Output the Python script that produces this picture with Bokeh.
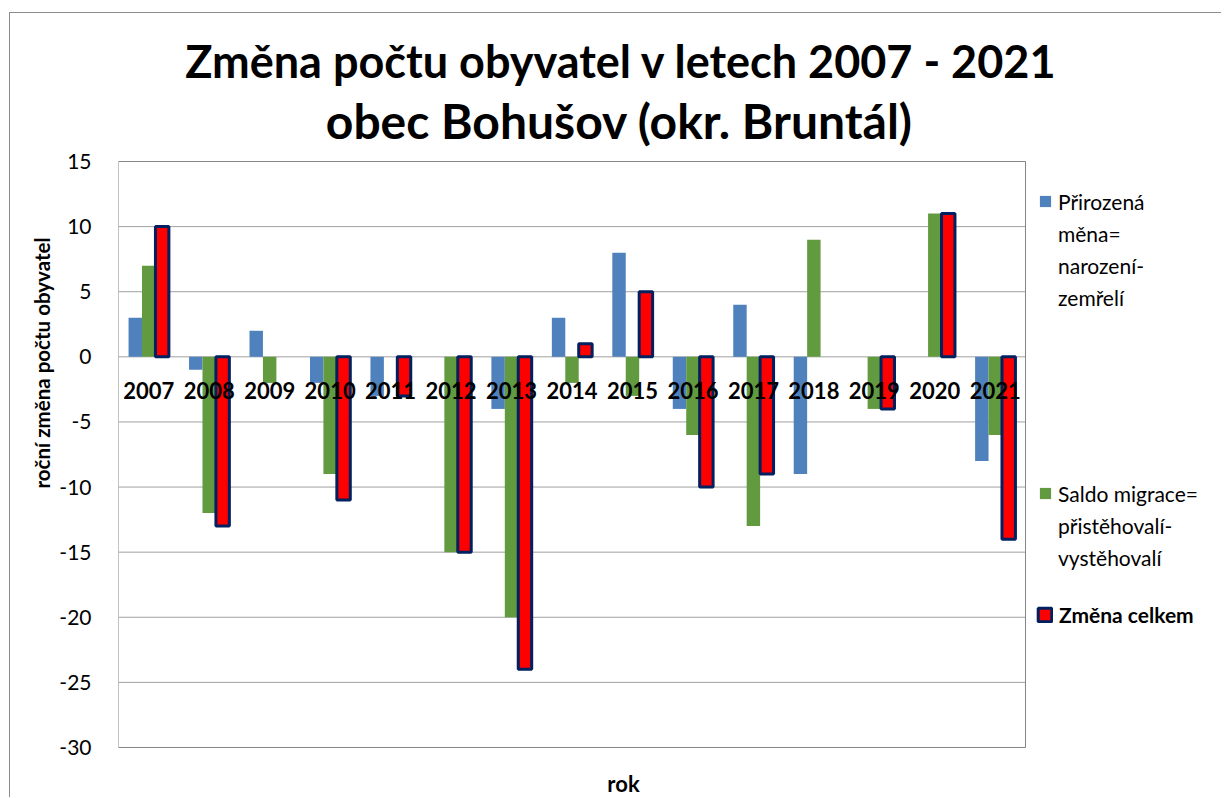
import math
from bokeh.plotting import figure
from bokeh.models import (ColumnDataSource, Range1d, FixedTicker, Label, Legend,
                          LegendItem, Title)
from bokeh.core.properties import value
from bokeh.transform import dodge
from bokeh.embed import file_html
from bokeh.resources import INLINE

years = ["2007", "2008", "2009", "2010", "2011", "2012", "2013", "2014",
         "2015", "2016", "2017", "2018", "2019", "2020", "2021"]
prirozena = [3, -1, 2, -2, -3, 0, -4, 3, 8, -4, 4, -9, 0, 0, -8]
migrace = [7, -12, -2, -9, 0, -15, -20, -2, -3, -6, -13, 9, -4, 11, -6]
celkem = [10, -13, 0, -11, -3, -15, -24, 1, 5, -10, -9, 0, -4, 11, -14]
y_ticks = [-30, -25, -20, -15, -10, -5, 0, 5, 10, 15]

title_lines = ["Změna počtu obyvatel v letech 2007 - 2021", "obec Bohušov (okr. Bruntál)"]
y_title = "roční změna počtu obyvatel"
x_title = "rok"
legend_lines = [["Přirozená", "měna=", "narození-", "zemřelí"],
                ["Saldo migrace=", "přistěhovalí-", "vystěhovalí"],
                ["Změna celkem"]]

FONT = "Lato"
BLUE = "#4F81BD"
GREEN = "#629A3F"
RED = "#FF0000"
NAVY = "#002060"
GRID = "#A0A0A0"
BORDER = "#868686"

# ---- layout (page pixels) ----
ORIG_X, ORIG_Y = 10, 13            # canvas origin on the page
W, H = 1212, 785                    # canvas size
PA_L, PA_R, PA_T, PA_B = 118, 1025, 161, 747   # plot area on the page
FR_L = PA_L                         # frame left on page; frame fills the rest
FR_T, FR_B, FR_R = ORIG_Y, ORIG_Y + H, ORIG_X + W

n = len(years)
ymin, ymax = min(y_ticks), max(y_ticks)
ppu_y = (PA_B - PA_T) / (ymax - ymin)
ppu_x = (PA_R - PA_L) / n
y_start = ymin - (FR_B - PA_B) / ppu_y
y_end = ymax + (PA_T - FR_T) / ppu_y
x_start = -0.5
x_end = -0.5 + (FR_R - FR_L) / ppu_x

idx = list(range(n))
zero_alpha = [0.0 if v == 0 else 1.0 for v in celkem]
src = ColumnDataSource(dict(idx=idx, year=years, a=prirozena, b=migrace, c=celkem,
                            ca=zero_alpha))

p = figure(width=W, height=H, x_range=Range1d(x_start, x_end), y_range=Range1d(y_start, y_end),
           output_backend="svg", toolbar_location=None,
           min_border_left=FR_L - ORIG_X, min_border_top=0, min_border_bottom=0,
           min_border_right=0)
p.styles = {"margin-left": "9px", "margin-top": "12px",
            "border-left": "1px solid #8C8C8C", "border-top": "1px solid #8C8C8C"}
p.outline_line_color = None
p.xgrid.visible = False
p.ygrid.visible = False
p.xaxis.visible = False

# gridlines and plot-area border, restricted to the plot area
p.segment(x0=-0.5, x1=n - 0.5, y0=y_ticks, y1=y_ticks, line_color=GRID, line_width=1)
p.quad(left=-0.5, right=n - 0.5, bottom=ymin, top=ymax, fill_color=None,
       line_color=BORDER, line_width=1)

bw = 1 / 4.5
r1 = p.vbar(x=dodge("idx", -bw), top="a", bottom=0, width=bw, source=src,
            fill_color=BLUE, line_color=None)
r2 = p.vbar(x=dodge("idx", 0), top="b", bottom=0, width=bw, source=src,
            fill_color=GREEN, line_color=None)
r3 = p.vbar(x=dodge("idx", bw), top="c", bottom=0, width=bw, source=src,
            fill_color=RED, line_color=NAVY, line_width=3, line_alpha="ca")
# transparent renderer used for continuation lines of the legend
r_blank = p.vbar(x=[], top=[], width=bw, fill_alpha=0, line_alpha=0)

# category labels next to the zero line
p.text(x="idx", y=0, text="year", source=src, text_font=value(FONT),
       text_font_style="bold", text_font_size="22px", text_color="black",
       text_align="center", text_baseline="middle", y_offset=34)

ya = p.yaxis[0]
ya.ticker = FixedTicker(ticks=y_ticks)
ya.major_label_overrides = {t: str(t) for t in y_ticks}
ya.axis_line_color = None
ya.major_tick_line_color = None
ya.minor_tick_line_color = None
ya.major_label_text_font = FONT
ya.major_label_text_font_size = "21px"
ya.major_label_text_color = "black"
ya.major_label_standoff = 21

p.add_layout(Title(text=y_title, align="right", offset=237 - FR_T, text_font=FONT,
                   text_font_size="20.5px", text_font_style="bold", text_color="black",
                   standoff=6), "left")

# texts inside the frame (screen units from frame bottom-left)
def lab(txt, px, py, size, bold=True):
    p.add_layout(Label(x=px - FR_L, y=FR_B - py, x_units="screen", y_units="screen",
                       text=txt, text_font=FONT, text_font_size=size,
                       text_font_style="bold" if bold else "normal", text_color="black",
                       text_align="center", text_baseline="middle"))

lab(title_lines[0], 621, 60, "45px")
lab(title_lines[1], 619, 120, "48px")
lab(x_title, 623, 783, "22px")

ROW = 32
def mk_legend(lines, renderer, px, py_first, bold=False, gsize=14):
    items = [LegendItem(label=t, renderers=[renderer if i == 0 else r_blank])
             for i, t in enumerate(lines)]
    bottom = py_first - ROW / 2 + ROW * len(lines)
    lg = Legend(items=items, location=(px - FR_L, FR_B - bottom), padding=0, margin=0,
                spacing=0, border_line_color=None, background_fill_alpha=0,
                label_text_font=FONT, label_text_font_size="21px", label_text_color="black",
                label_height=ROW, label_standoff=6, glyph_width=gsize, glyph_height=gsize)
    if bold:
        lg.label_text_font_style = "bold"
    p.add_layout(lg, "center")

mk_legend(legend_lines[0], r1, 1038, 201)
mk_legend(legend_lines[1], r2, 1038, 493)
mk_legend(legend_lines[2], r3, 1036, 614, bold=True, gsize=17)

open("out.html", "w").write(file_html(p, INLINE))
